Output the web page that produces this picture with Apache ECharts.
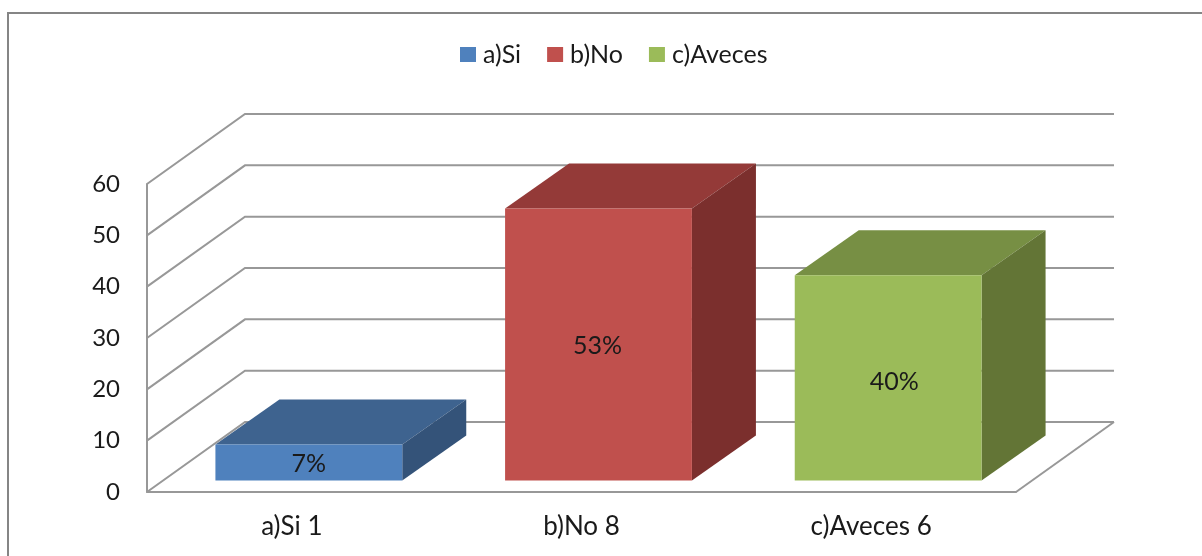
<!DOCTYPE html>
<html>
<head>
<meta charset="utf-8">
<title>a)Si b)No c)Aveces</title>
<style>
  html, body { margin: 0; padding: 0; background: #fff; overflow: hidden; }
  #chart { width: 1202px; height: 556px; }
</style>
<script src="https://cdn.jsdelivr.net/npm/echarts@6/dist/echarts.min.js"></script>
</head>
<body>
<div id="chart"></div>
<script>
// chart data
const seriesNames = ['a)Si', 'b)No', 'c)Aveces'];
const categories = ['a)Si 1', 'b)No 8', 'c)Aveces 6'];
const percentValues = [7, 53, 40];
const yTicks = [0, 10, 20, 30, 40, 50, 60];

// fake 3d depth, in pixels
const WALL_DX = 98;
const WALL_DY = -70;
const BAR_DX = 64;
const BAR_DY = -45;
const BAR_OFFSET_DX = 17;
const BAR_OFFSET_DY = -11.5;
const BAR_RATIO = 0.645;

const FONT = 'Lato, "Open Sans", sans-serif';
const TEXT_COLOR = '#1a1a1a';
const GRID_COLOR = '#989898';

const barColors = [
  { front: '#4f81bd', top: '#3e638f', side: '#345379' },
  { front: '#c0504d', top: '#943a38', side: '#7b2f2d' },
  { front: '#9bbb59', top: '#778f44', side: '#637536' }
];
// percent labels are not quite centred on the bars in the original
const labelShift = [[0, 1], [-1, 1], [6, 4]];

const chart = echarts.init(document.getElementById('chart'));

// side wall and back wall lines for each tick
const renderWall = (params, api) => {
  const value = api.value(0);
  const start = api.coord([0, value]);
  const x0 = params.coordSys.x;
  const x1 = x0 + params.coordSys.width;
  const y = start[1];
  const children = [
    {
      type: 'polyline',
      shape: { points: [[x0, y], [x0 + WALL_DX, y + WALL_DY], [x1 + WALL_DX, y + WALL_DY]] },
      style: { fill: null, stroke: GRID_COLOR, lineWidth: 2 }
    }
  ];
  // floor right edge
  if (value === 0) {
    children.push({
      type: 'line',
      shape: { x1: x1, y1: y, x2: x1 + WALL_DX, y2: y + WALL_DY },
      style: { stroke: GRID_COLOR, lineWidth: 2 }
    });
  }
  return { type: 'group', children };
};

const renderBar = (colors) => (params, api) => {
  const idx = api.value(0);
  const val = api.value(1);
  const base = api.coord([idx, 0]);
  const peak = api.coord([idx, val]);
  const w = api.size([1, 0])[0] * BAR_RATIO;
  const l = base[0] - w / 2 + BAR_OFFSET_DX;
  const r = l + w;
  const b = base[1] + BAR_OFFSET_DY;
  const t = peak[1] + BAR_OFFSET_DY;
  return {
    type: 'group',
    children: [
      {
        type: 'polygon',
        shape: { points: [[l, t], [l + BAR_DX, t + BAR_DY], [r + BAR_DX, t + BAR_DY], [r, t]] },
        style: { fill: colors.top }
      },
      {
        type: 'polygon',
        shape: { points: [[r, t], [r + BAR_DX, t + BAR_DY], [r + BAR_DX, b + BAR_DY], [r, b]] },
        style: { fill: colors.side }
      },
      {
        type: 'rect',
        shape: { x: l, y: t, width: w, height: b - t },
        style: { fill: colors.front }
      },
      {
        type: 'text',
        style: {
          x: (l + r) / 2 + labelShift[idx][0],
          y: (t + b) / 2 + labelShift[idx][1],
          text: val + '%',
          fill: TEXT_COLOR,
          font: '25px ' + FONT,
          textAlign: 'center',
          textVerticalAlign: 'middle'
        }
      }
    ]
  };
};

const option = {
  animation: false,
  backgroundColor: '#fff',
  graphic: [
    {
      type: 'polyline',
      shape: { points: [[8, 556], [8, 13], [1202, 13]] },
      style: { fill: null, stroke: '#858585', lineWidth: 2 }
    }
  ],
  legend: {
    data: seriesNames,
    left: 455,
    top: 37,
    itemWidth: 16,
    itemHeight: 15,
    itemGap: 26,
    icon: 'rect',
    textStyle: { fontFamily: FONT, fontSize: 25, color: TEXT_COLOR, padding: [0, 0, 0, 2] }
  },
  grid: { left: 147, top: 184, width: 869, height: 308 },
  xAxis: {
    type: 'category',
    data: categories,
    axisTick: { show: false },
    axisLine: { lineStyle: { color: GRID_COLOR, width: 2 } },
    axisLabel: { fontFamily: FONT, fontSize: 26, color: TEXT_COLOR, margin: 22 }
  },
  yAxis: {
    type: 'value',
    min: 0,
    max: 60,
    interval: 10,
    axisTick: { show: false },
    axisLine: { show: true, lineStyle: { color: GRID_COLOR, width: 2 } },
    axisLabel: { fontFamily: FONT, fontSize: 24, color: TEXT_COLOR, margin: 27 },
    splitLine: { show: false }
  },
  series: [
    {
      type: 'custom',
      silent: true,
      z: 1,
      renderItem: renderWall,
      encode: { y: 0 },
      data: yTicks.map((t) => [t])
    },
    // one series per bar so the legend gets three entries
    ...seriesNames.map((name, i) => ({
      name,
      type: 'custom',
      z: 2,
      itemStyle: { color: barColors[i].front },
      renderItem: renderBar(barColors[i]),
      encode: { x: 0, y: 1 },
      data: [[i, percentValues[i]]]
    }))
  ]
};

chart.setOption(option);
</script>
</body>
</html>
